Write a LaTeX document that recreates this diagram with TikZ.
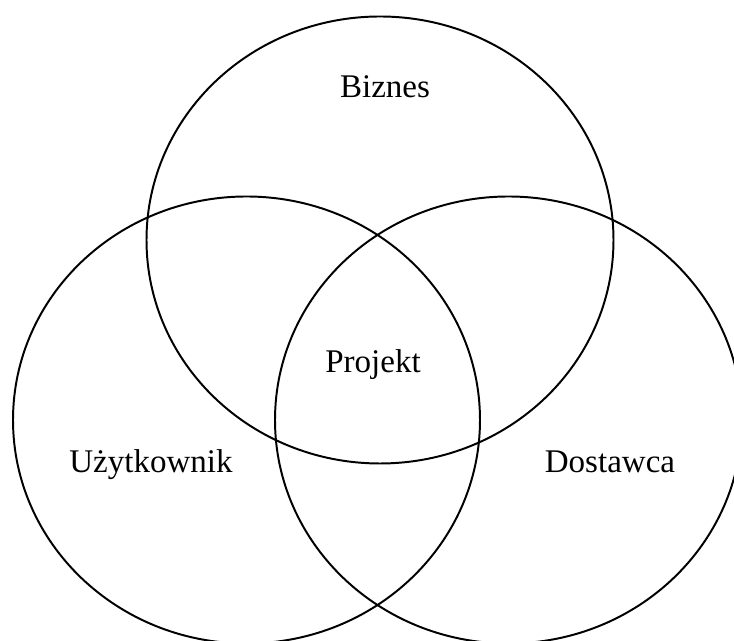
\documentclass[tikz,border=0pt]{standalone}
\usepackage{fontspec}
\setmainfont{Liberation Serif}
\usetikzlibrary{positioning}

\begin{document}
\begin{tikzpicture}[
    ring/.style={draw=black, line width=1.4pt},
    lbl/.style={anchor=base, font=\fontsize{23.5}{28}\selectfont}
  ]
    \useasboundingbox (0,0) rectangle (18.35,16.025);

    % centres of the three sets
    \coordinate (biznes) at (9.5,10.025);
    \coordinate (uzytk) at (6.1625,5.525);
    \coordinate (dostawca) at (12.7125,5.525);

    \draw[ring] (biznes) ellipse [x radius=5.8375, y radius=5.5875];
    \draw[ring] (uzytk) ellipse [x radius=5.8375, y radius=5.5875];
    \draw[ring] (dostawca) ellipse [x radius=5.8375, y radius=5.5875];

    \node[lbl] (tbiz) at (9.625,13.575) {Biznes};
    \node[lbl] (tproj) at (9.325,6.7) {Projekt};
    \node[lbl] (tuzy) at (3.775,4.2) {Użytkownik};
    \node[lbl] (tdos) at (15.25,4.2) {Dostawca};
\end{tikzpicture}
\end{document}
